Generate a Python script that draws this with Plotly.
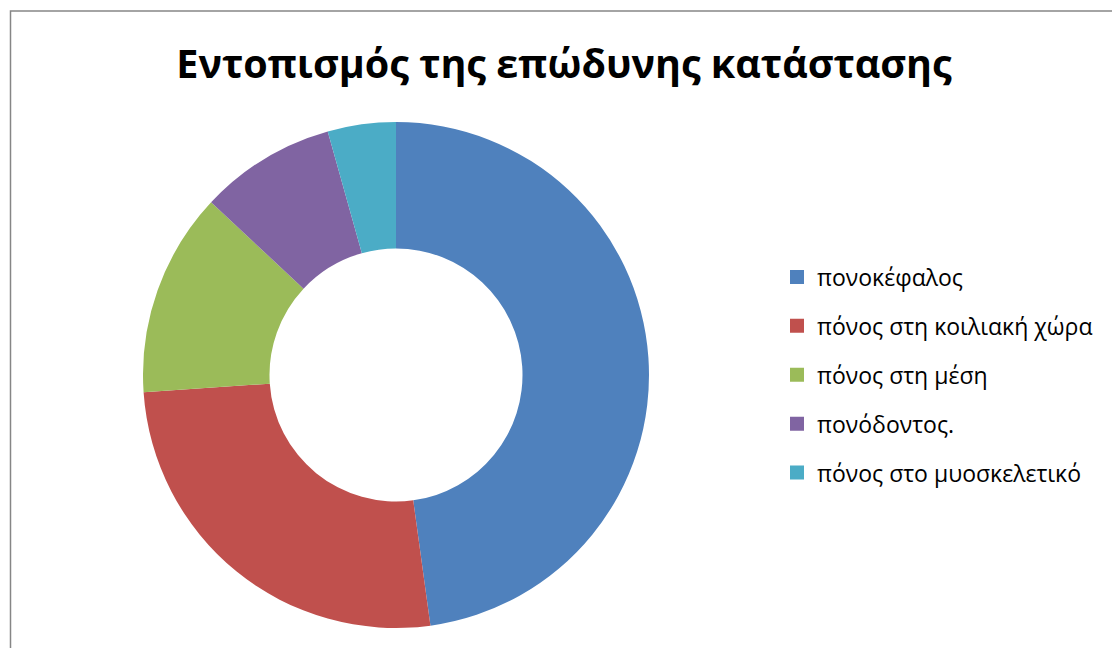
import plotly.graph_objects as go

labels = ["πονοκέφαλος", "πόνος στη κοιλιακή χώρα", "πόνος στη μέση", "πονόδοντος.", "πόνος στο μυοσκελετικό"]
values = [22, 12, 6, 4, 2]
colors = ["#4F81BD", "#C0504D", "#9BBB59", "#8064A2", "#4BACC6"]
title_text = "Εντοπισμός της επώδυνης κατάστασης"

W, H = 1112, 648
cx, cy, r = 396, 375, 253

fig = go.Figure()
fig.add_trace(go.Pie(
    labels=labels, values=values, hole=0.5, sort=False, direction="clockwise",
    rotation=0, textinfo="none", hoverinfo="label+value+percent",
    marker=dict(colors=colors, line=dict(width=0)),
    showlegend=False,
    domain=dict(x=[(cx - r) / W, (cx + r) / W], y=[1 - (cy + r) / H, 1 - (cy - r) / H]),
))
for lab, col in zip(labels, colors):
    fig.add_trace(go.Scatter(
        x=[None], y=[None], mode="markers", name=lab, legendgroup=lab,
        marker=dict(symbol="square", size=14, color=col), showlegend=True, hoverinfo="skip",
    ))

fig.update_layout(
    width=W, height=H,
    margin=dict(l=0, r=0, t=0, b=0),
    paper_bgcolor="white", plot_bgcolor="white",
    xaxis=dict(visible=False), yaxis=dict(visible=False),
    title=dict(text="<b>" + title_text + "</b>", x=564 / W, xanchor="center",
               y=1 - 64 / H, yanchor="middle",
               font=dict(family="Open Sans", size=39.5, color="black")),
    legend=dict(x=777 / W, xanchor="left", y=1 - 375 / H, yanchor="middle",
                font=dict(family="Open Sans", size=23, color="black"),
                tracegroupgap=16, bgcolor="rgba(0,0,0,0)"),
    shapes=[dict(type="rect", xref="paper", yref="paper",
                 x0=10.5 / W, y0=-0.05, x1=1.05, y1=1 - 11 / H,
                 line=dict(color="#868686", width=1.5), fillcolor="rgba(0,0,0,0)")],
)

fig.write_html("out.html")
